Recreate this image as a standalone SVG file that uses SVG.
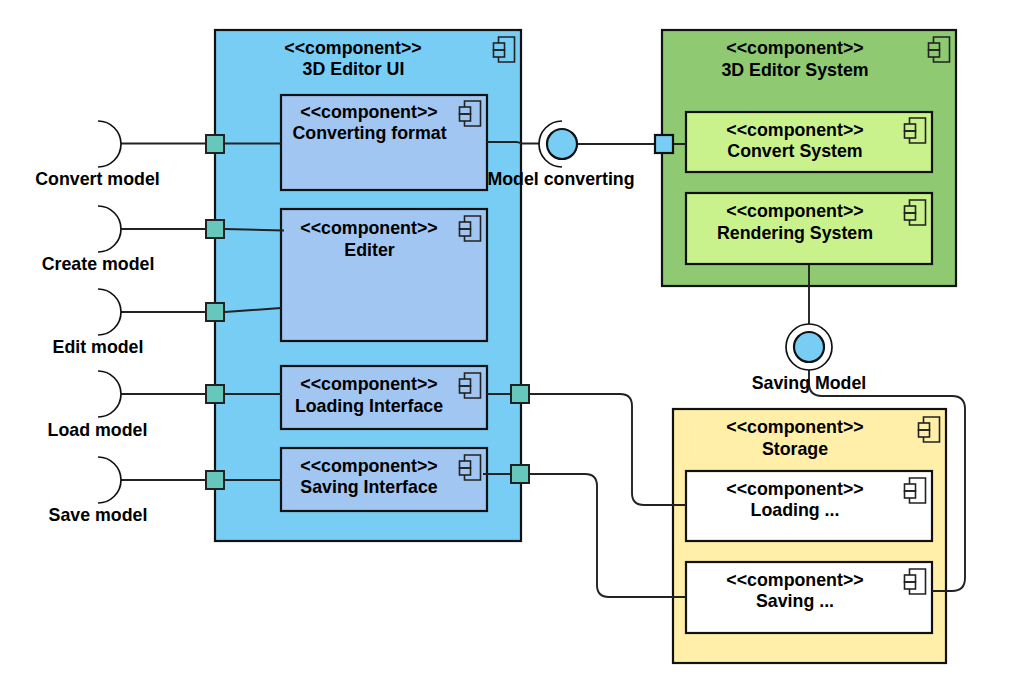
<svg xmlns="http://www.w3.org/2000/svg" width="1024" height="682" viewBox="0 0 1024 682">
<defs>
<style>
.n{stroke:#111;stroke-width:2.2}
.t{font-family:"Liberation Sans",Arial,sans-serif;font-size:17.8px;font-weight:bold;fill:#000;text-anchor:middle}
.c{fill:none;stroke:#222;stroke-width:1.9}
.ic{fill:none;stroke:#222;stroke-width:1.6}
.port{fill:#66c7bc;stroke:#222;stroke-width:2}
.lol{fill:#78cdf5;stroke:#111;stroke-width:2.2}
.arc{fill:none;stroke:#111;stroke-width:1.7}
</style>
<g id="ico"><path class="ic" d="M5 6V0H21V25H5V20"/><rect class="ic" x="0" y="6" width="11" height="7"/><rect class="ic" x="0" y="13" width="11" height="7"/></g>
<path id="sock" class="arc" d="M98 -23A23 23 0 0 1 98 23"/>
</defs>
<rect width="1024" height="682" fill="#fff"/>
<g id="ui"><rect class="n" x="215" y="30" width="306" height="511" fill="#78cdf5"/><use href="#ico" x="493.500" y="37"/><text class="t" x="353" y="54">&lt;&lt;component&gt;&gt;</text><text class="t" x="353.500" y="75">3D Editor UI</text></g>
<g id="system"><rect class="n" x="662" y="30" width="294" height="256" fill="#8fc972"/><use href="#ico" x="928.500" y="37"/><text class="t" x="795" y="54">&lt;&lt;component&gt;&gt;</text><text class="t" x="795" y="76">3D Editor System</text></g>
<g id="storage"><rect class="n" x="673" y="409" width="273" height="254" fill="#ffefa8"/><use href="#ico" x="918.500" y="417"/><text class="t" x="795" y="433">&lt;&lt;component&gt;&gt;</text><text class="t" x="795" y="455">Storage</text></g>
<g id="converting"><rect class="n" x="281" y="95" width="206" height="95" fill="#a1c6f1"/><use href="#ico" x="459.500" y="101"/><text class="t" x="369" y="118">&lt;&lt;component&gt;&gt;</text><text class="t" x="369.500" y="139">Converting format</text></g>
<g id="editer"><rect class="n" x="281" y="209" width="206" height="132" fill="#a1c6f1"/><use href="#ico" x="459.500" y="216"/><text class="t" x="369" y="234">&lt;&lt;component&gt;&gt;</text><text class="t" x="369.500" y="256">Editer</text></g>
<g id="loading-if"><rect class="n" x="281" y="366" width="206" height="63" fill="#a1c6f1"/><use href="#ico" x="459.500" y="373"/><text class="t" x="369" y="390">&lt;&lt;component&gt;&gt;</text><text class="t" x="369" y="412">Loading Interface</text></g>
<g id="saving-if"><rect class="n" x="281" y="448" width="206" height="63" fill="#a1c6f1"/><use href="#ico" x="459.500" y="455"/><text class="t" x="369" y="472">&lt;&lt;component&gt;&gt;</text><text class="t" x="369" y="493">Saving Interface</text></g>
<g id="convert-sys"><rect class="n" x="686" y="112" width="246" height="60" fill="#caf28c"/><use href="#ico" x="904.500" y="118"/><text class="t" x="795" y="136">&lt;&lt;component&gt;&gt;</text><text class="t" x="795" y="157">Convert System</text></g>
<g id="render-sys"><rect class="n" x="686" y="193" width="246" height="71" fill="#caf28c"/><use href="#ico" x="904.500" y="200"/><text class="t" x="795" y="217">&lt;&lt;component&gt;&gt;</text><text class="t" x="795" y="239">Rendering System</text></g>
<g id="loading"><rect class="n" x="686" y="471" width="246" height="70" fill="#fff"/><use href="#ico" x="904.500" y="478"/><text class="t" x="795" y="495">&lt;&lt;component&gt;&gt;</text><text class="t" x="795" y="516">Loading ...</text></g>
<g id="saving"><rect class="n" x="686" y="562" width="246" height="71" fill="#fff"/><use href="#ico" x="904.500" y="569"/><text class="t" x="795" y="586">&lt;&lt;component&gt;&gt;</text><text class="t" x="795" y="607">Saving ...</text></g>
<g id="connectors">
<path class="c" d="M121 143.500H281"/><path class="c" d="M121 229H225L284 230.500"/><path class="c" d="M121 312H225L281 308"/><path class="c" d="M121 394H281"/><path class="c" d="M121 480H281"/>
<path class="c" d="M487 142H516Q519 142 521 143.500H539"/><path class="c" d="M577 144H686"/>
<path class="c" d="M809 265V326"/>
<path class="c" d="M809 369V383Q809 396 822 396H952Q965 396 965 409V578Q965 591 952 591H932"/>
<path class="c" d="M487 394H620Q632 394 632 406V493Q632 505 644 505H686"/>
<path class="c" d="M483 474H585Q597 474 597 486V585Q597 597 609 597H686"/>
</g>
<g id="p-convert"><rect class="port" x="206" y="135" width="18" height="18"/></g>
<g id="p-create"><rect class="port" x="206" y="220" width="18" height="18"/></g>
<g id="p-edit"><rect class="port" x="206" y="303" width="18" height="18"/></g>
<g id="p-load"><rect class="port" x="206" y="385" width="18" height="18"/></g>
<g id="p-save"><rect class="port" x="206" y="471" width="18" height="18"/></g>
<g id="p-loading"><rect class="port" x="511" y="385" width="18" height="18"/></g>
<g id="p-saving"><rect class="port" x="511" y="465" width="18" height="18"/></g>
<g id="p-system"><rect class="lol" x="655" y="135" width="18" height="18" stroke-width="2"/></g>
<g id="s-convert"><use href="#sock" y="144"/><text class="t" x="97.500" y="185">Convert model</text></g>
<g id="s-create"><use href="#sock" y="229"/><text class="t" x="98" y="270">Create model</text></g>
<g id="s-edit"><use href="#sock" y="312"/><text class="t" x="98" y="353">Edit model</text></g>
<g id="s-load"><use href="#sock" y="394"/><text class="t" x="97.500" y="436">Load model</text></g>
<g id="s-save"><use href="#sock" y="480"/><text class="t" x="98" y="521">Save model</text></g>
<g id="model-converting"><path class="arc" d="M562 121A23 23 0 0 0 562 167"/><circle class="lol" cx="562" cy="144" r="15"/><text class="t" x="561" y="185">Model converting</text></g>
<g id="saving-model"><circle cx="809" cy="347" r="23" fill="#fff" stroke="#111" stroke-width="1.700"/><circle class="lol" cx="809" cy="347" r="15"/><text class="t" x="809" y="389">Saving Model</text></g>
</svg>
